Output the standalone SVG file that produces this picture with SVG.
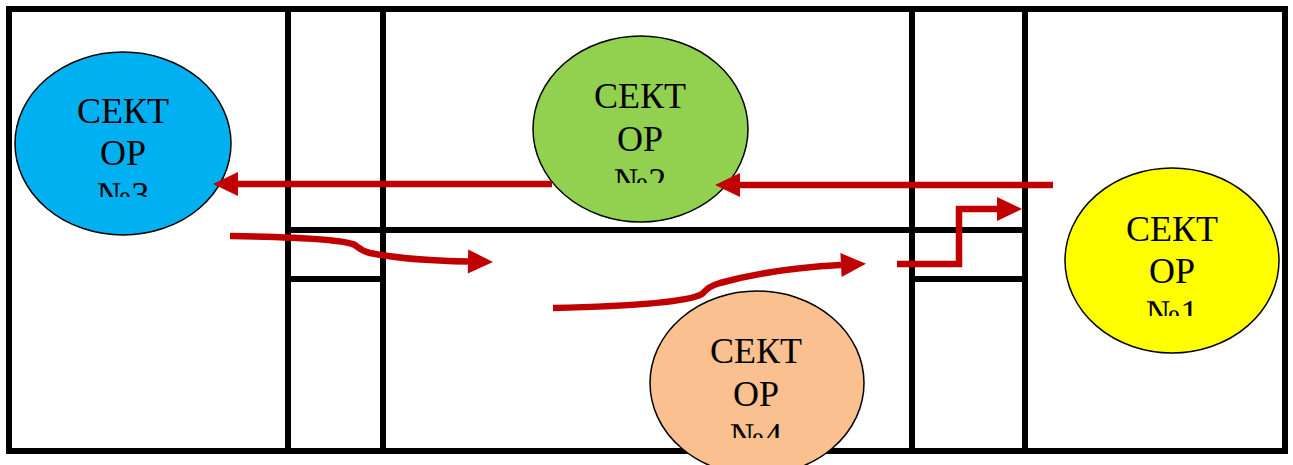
<svg xmlns="http://www.w3.org/2000/svg" width="1293" height="465" viewBox="0 0 1293 465">
<style>
.wall{stroke:#000;stroke-width:6;fill:none}
.sec{stroke:#000;stroke-width:1.5}
.lbl{font-family:"Liberation Serif","Times New Roman",serif;font-size:36px;fill:#000;text-anchor:middle}
.flow{stroke:#C00000;stroke-width:6.5;fill:none;stroke-linejoin:miter;stroke-linecap:butt}
</style>
<defs>
<marker id="ah" markerUnits="userSpaceOnUse" markerWidth="26" markerHeight="24" refX="0" refY="12" orient="auto" overflow="visible">
<path d="M0,0 L25,12 L0,24 z" fill="#C00000"/>
</marker>
<clipPath id="c3"><rect x="15" y="52" width="216" height="145"/></clipPath>
<clipPath id="c2"><rect x="533" y="36" width="215" height="147"/></clipPath>
<clipPath id="c1"><rect x="1065" y="168" width="214" height="148"/></clipPath>
<clipPath id="c4"><rect x="650" y="291" width="214" height="147"/></clipPath>
</defs>
<rect width="1293" height="465" fill="#fff"/>
<g id="walls">
<rect class="wall" x="9" y="9" width="1276" height="442"/>
<line class="wall" x1="288" y1="9" x2="288" y2="451"/>
<line class="wall" x1="383" y1="9" x2="383" y2="451"/>
<line class="wall" x1="912" y1="9" x2="912" y2="451"/>
<line class="wall" x1="1025" y1="9" x2="1025" y2="451"/>
<line class="wall" x1="288" y1="230" x2="1025" y2="230"/>
<line class="wall" x1="288" y1="279" x2="383" y2="279"/>
<line class="wall" x1="912" y1="279" x2="1025" y2="279"/>
</g>
<g id="sector3">
<ellipse class="sec" cx="123" cy="143.5" rx="108" ry="91.5" fill="#00B0F0"/>
<g clip-path="url(#c3)"><text class="lbl" x="123" y="123">СЕКТ</text><text class="lbl" x="123" y="165">ОР</text><text class="lbl" x="123" y="207">№3</text></g>
</g>
<g id="sector2">
<ellipse class="sec" cx="640.5" cy="129" rx="107.5" ry="93" fill="#92D050"/>
<g clip-path="url(#c2)"><text class="lbl" x="640" y="108">СЕКТ</text><text class="lbl" x="640" y="151">ОР</text><text class="lbl" x="640" y="193">№2</text></g>
</g>
<g id="sector1">
<ellipse class="sec" cx="1172" cy="260.5" rx="107" ry="92.5" fill="#FFFF00"/>
<g clip-path="url(#c1)"><text class="lbl" x="1172" y="241">СЕКТ</text><text class="lbl" x="1172" y="283">ОР</text><text class="lbl" x="1172" y="325">№1</text></g>
</g>
<g id="sector4">
<ellipse class="sec" cx="757" cy="383" rx="107" ry="92" fill="#FAC090"/>
<g clip-path="url(#c4)"><text class="lbl" x="756" y="363">СЕКТ</text><text class="lbl" x="756" y="406">ОР</text><text class="lbl" x="756" y="448">№4</text></g>
</g>
<g id="connectors">
<path class="flow" d="M552,184 H238" marker-end="url(#ah)"/>
<path class="flow" d="M1053,185 H740" marker-end="url(#ah)"/>
<path class="flow" d="M230,236 C300,237 345,240 355,245 C360,249 362,251 370,253 C400,259 440,261 468,261.5" marker-end="url(#ah)"/>
<path class="flow" d="M553,308 C640,306 690,301 702,294 C708,288 710,286 720,283 C760,272 800,267 841,265" marker-end="url(#ah)"/>
<path class="flow" d="M897,264 H959 V209 H997" marker-end="url(#ah)"/>
</g>
</svg>
